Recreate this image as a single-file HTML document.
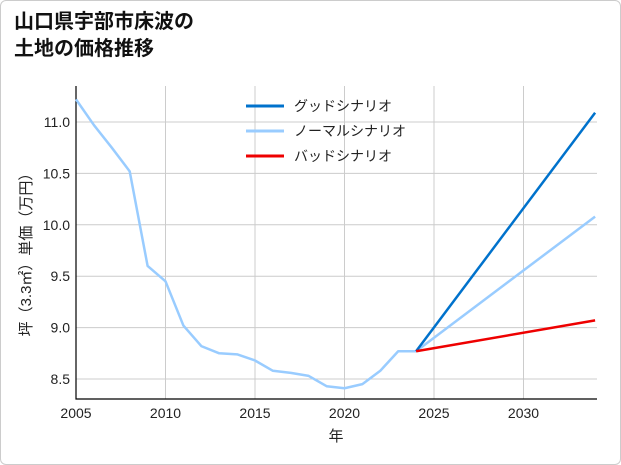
<!DOCTYPE html>
<html><head><meta charset="utf-8">
<style>
body{margin:0;background:#fff;}
#wrap{position:relative;width:619px;height:463px;border:1px solid #ccc;border-radius:6px;overflow:hidden;font-family:"Liberation Sans","Noto Sans CJK JP",sans-serif;}
#title{position:absolute;left:13px;top:8px;font-size:20px;font-weight:bold;line-height:27px;color:#111;}
svg{position:absolute;left:0;top:0;}
text{font-family:"Liberation Sans","Noto Sans CJK JP",sans-serif;}
</style></head><body>
<div id="wrap">
<div id="title">山口県宇部市床波の<br>土地の価格推移</div>
<svg id="chart" width="621" height="465"></svg>
</div>
<script>
const years=[2005,2006,2007,2008,2009,2010,2011,2012,2013,2014,2015,2016,2017,2018,2019,2020,2021,2022,2023,2024];
const prices=[11.22,10.97,10.75,10.52,9.6,9.45,9.02,8.82,8.75,8.74,8.68,8.58,8.56,8.53,8.43,8.41,8.45,8.58,8.77,8.77];
const scenarioYears=[2024,2034];
const goodVals=[8.77,11.09];
const normalVals=[8.77,10.08];
const badVals=[8.77,9.07];
const xTicks=[2005,2010,2015,2020,2025,2030];
const yTicks=[8.5,9.0,9.5,10.0,10.5,11.0];
const legendLabels=["グッドシナリオ","ノーマルシナリオ","バッドシナリオ"];
const legendColors=["#0072cc","#99ccff","#ee0000"];

const L=75,R=596,T=85,B=398;
const x=v=>75+(v-2005)*17.9;
const y=v=>378-(v-8.5)*102.8;
const svg=document.getElementById('chart');
const NS='http://www.w3.org/2000/svg';
function mk(t,a){const e=document.createElementNS(NS,t);for(const k in a)e.setAttribute(k,a[k]);svg.appendChild(e);return e;}

xTicks.forEach(v=>{
 const g=mk('line',{x1:x(v),x2:x(v),y1:T,y2:B,stroke:'#cccccc','stroke-width':1});
 
 
 const t=mk('text',{x:x(v),y:B+19,'text-anchor':'middle','font-size':14,fill:'#222'});
 t.textContent=v;
 
 
});
yTicks.forEach(v=>{
 const g=mk('line',{x1:L,x2:R,y1:y(v),y2:y(v),stroke:'#cccccc','stroke-width':1});
 
 
 const t=mk('text',{x:L-6,y:y(v)+5,'text-anchor':'end','font-size':14,fill:'#222'});
 t.textContent=v.toFixed(1);
 
 
});
const ax=mk('path',{d:`M${L},${T} V${B} H${R}`,fill:'none',stroke:'#000','stroke-width':1.2});



function line(xs,vs,c,w,name){
 const p=mk('polyline',{points:xs.map((a,i)=>x(a)+','+y(vs[i])).join(' '),fill:'none',stroke:c,'stroke-width':w,'stroke-linejoin':'round'});
 
 
}
line(years,prices,'#99ccff',2.5,'historical-line');
line(scenarioYears,normalVals,'#99ccff',2.5,'normal-scenario-line');
line(scenarioYears,goodVals,'#0072cc',2.5,'good-scenario-line');
line(scenarioYears,badVals,'#ee0000',2.5,'bad-scenario-line');

legendLabels.forEach((s,i)=>{
 const yy=105+i*25;
 const l=mk('line',{x1:245,x2:283,y1:yy,y2:yy,stroke:legendColors[i],'stroke-width':3});
 
 
 const t=mk('text',{x:293,y:yy+5,'font-size':14,fill:'#222'});
 t.textContent=s;
 
 
});
const xt=mk('text',{x:335,y:440,'text-anchor':'middle','font-size':15,fill:'#222'});
xt.textContent='年';


const yt=mk('text',{x:0,y:0,'text-anchor':'middle','font-size':15,fill:'#222',transform:'translate(30,250) rotate(-90)'});
yt.textContent='坪（3.3㎡）単価（万円）';


</script>
</body></html>
